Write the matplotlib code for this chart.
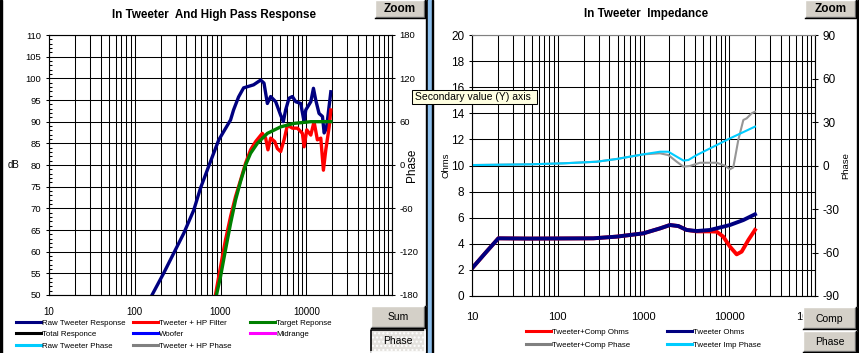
import numpy as np
import matplotlib
matplotlib.use("Agg")
import matplotlib.pyplot as plt
from matplotlib.ticker import LogLocator, FixedLocator, FuncFormatter, MultipleLocator, NullFormatter
from matplotlib.lines import Line2D
from matplotlib.patches import Rectangle

plt.rcParams['font.family'] = ['Liberation Sans', 'DejaVu Sans']
plt.rcParams['axes.unicode_minus'] = False

W, H = 859, 353

# --- left chart: tweeter + high pass response (dB) ---
raw_freq = [159, 217, 284, 372, 488, 583, 764, 955, 1310, 1420, 1624, 1860, 2430, 2940, 3215,
            3520, 3845, 4400, 5030, 5400, 5750, 6290, 6890, 7540, 8620, 9440, 9870, 11300,
            12130, 12900, 14100, 15460, 16170, 17220, 19350]
raw_db = [50, 55.0, 59.6, 64.2, 69.6, 74.6, 80.8, 85.8, 90.4, 92.7, 95.7, 97.8, 98.5, 99.6, 98.9,
          94.2, 95.8, 94.6, 91.5, 90.0, 92.7, 95.4, 95.8, 94.6, 94.2, 90.0, 92.7, 94.6,
          97.7, 95.0, 91.9, 91.2, 87.4, 88.5, 96.9]

hp_freq = [873, 1000, 1143, 1310, 1497, 1713, 1960, 2243, 2566, 3070, 3360, 3575, 3845, 4290,
           4600, 5030, 5510, 6030, 6890, 7890, 9020, 9440, 10140, 11300, 12330, 13480, 14780,
           15850, 16900, 18500, 19350]
hp_db = [50, 56.5, 62.7, 68.1, 72.7, 76.5, 80.4, 83.5, 85.4, 87.3, 86.2, 83.5, 86.2, 85.4,
         83.8, 83.1, 85.8, 89.2, 88.5, 88.5, 87.3, 84.2, 88.1, 86.9, 90.0, 85.8, 86.2,
         78.8, 83.5, 88.8, 92.7]

target_freq = [897, 1000, 1143, 1310, 1497, 1713, 1960, 2243, 2690, 3520, 5030, 7200, 11300, 19350]
target_db = [50, 54.2, 60.4, 66.5, 71.9, 76.2, 80.0, 82.7, 85.0, 87.3, 88.8, 89.6, 90.0, 90.0]

# --- right chart: impedance (ohms) and phase (deg) ---
ohm_freq = [10, 14.2, 20.3, 47.4, 260, 487, 995, 1557, 2036, 2548, 3187, 4170, 5970, 10200,
            14600, 19950]
tw_ohms = [2.12, 3.27, 4.42, 4.4, 4.42, 4.55, 4.8, 5.18, 5.44, 5.36, 5.06, 4.98, 5.06, 5.44,
           5.82, 6.26]

comp_freq = [10, 14.2, 20.3, 47.4, 260, 487, 995, 1557, 2036, 2548, 3187, 4170, 5970, 7130,
             8510, 10200, 12200, 13960, 16700, 19950]
comp_ohms = [2.12, 3.27, 4.42, 4.4, 4.42, 4.55, 4.8, 5.18, 5.44, 5.36, 5.06, 4.95, 4.95, 4.93,
             4.55, 3.78, 3.19, 3.4, 4.29, 5.06]

imp_ph_freq = [10, 47, 116, 284, 487, 995, 1557, 1950, 2440, 2920, 3340, 4170, 5970, 10200, 19950]
imp_phase = [0.3, 0.8, 1.5, 2.6, 4.5, 7.7, 9.5, 9.5, 6.1, 3.4, 3.8, 7.2, 11.8, 18.7, 26.8]

comp_ph_freq = [10, 47, 116, 284, 487, 995, 1557, 1950, 2440, 2920, 3490, 4560, 7130, 8910,
                10200, 11150, 12750, 14600, 15950, 18270, 19950]
comp_phase = [0.3, 0.8, 1.5, 2.6, 4.5, 7.7, 8.4, 7.2, 2.6, -0.8, -0.3, 1.9, 1.9, -0.1,
              -2.6, -1.3, 17.6, 31.4, 32.5, 36.0, 37.1]

freq_ticks = [10, 100, 1000, 10000, 100000]

NAVY, RED, GREEN = '#000080', '#FF0000', '#008000'
CYAN, GRAY = '#00CCFF', '#969696'


def fig_box(x0, y0, x1, y1):
    return [x0 / W, 1 - y1 / H, (x1 - x0) / W, (y1 - y0) / H]


def fig_pt(x, y):
    return (x / W, 1 - y / H)


def setup_freq_axis(ax, labelsize, pad):
    ax.set_xscale('log')
    ax.set_xlim(10, 100000)
    ax.xaxis.set_major_locator(FixedLocator(freq_ticks))
    ax.xaxis.set_major_formatter(FuncFormatter(lambda v, p: f"{int(round(v))}"))
    ax.xaxis.set_minor_locator(LogLocator(base=10, subs=range(2, 10), numticks=20))
    ax.xaxis.set_minor_formatter(NullFormatter())
    ax.grid(True, axis='x', which='both', color='black', lw=0.75)
    ax.grid(True, axis='y', which='major', color='black', lw=0.75)
    ax.set_axisbelow(True)
    ax.tick_params(axis='x', which='both', length=0, pad=pad, labelsize=labelsize)
    for s in ax.spines.values():
        s.set_color('black')
        s.set_linewidth(0.75)


fig = plt.figure(figsize=(W / 100, H / 100), dpi=100)
fig.patch.set_facecolor('white')

# left chart
ax1 = fig.add_axes(fig_box(49, 35, 392, 295))
setup_freq_axis(ax1, 7, 8.4)
ax1.set_ylim(50, 110)
ax1.yaxis.set_major_locator(MultipleLocator(5))
ax1.yaxis.set_minor_locator(MultipleLocator(1))
ax1.tick_params(axis='y', which='major', direction='inout', length=5, width=0.75, pad=3, labelsize=6.8)
ax1.tick_params(axis='y', which='minor', direction='in', length=2.5, width=0.75)
ax1.plot(raw_freq, raw_db, color=NAVY, lw=2.4, solid_joinstyle='round')
ax1.plot(hp_freq, hp_db, color=RED, lw=2.4, solid_joinstyle='round')
ax1.plot(target_freq, target_db, color=GREEN, lw=2.4, solid_joinstyle='round')
ax1.set_ylabel('dB', rotation=0, fontsize=7, ha='center', va='center')
ax1.yaxis.set_label_coords((14 - 49) / 343, 0.5)

ax1b = ax1.twinx()
ax1b.set_ylim(-180, 180)
ax1b.yaxis.set_major_locator(MultipleLocator(60))
ax1b.tick_params(axis='y', direction='inout', length=5, width=0.75, pad=3, labelsize=6.8)
ax1b.set_ylabel('Phase', rotation=90, fontsize=8.5, ha='center', va='center')
ax1b.yaxis.set_label_coords((412 - 49) / 343, 0.5)

fig.text(*fig_pt(214, 15), 'In Tweeter  And High Pass Response', ha='center', va='center',
         fontsize=8.4, fontweight='bold')

# right chart
ax2 = fig.add_axes(fig_box(472, 35, 815, 296))
setup_freq_axis(ax2, 8, 11.2)
ax2.spines['top'].set_color('#808080')
ax2.set_ylim(0, 20)
ax2.yaxis.set_major_locator(MultipleLocator(2))
ax2.tick_params(axis='y', direction='inout', length=5, width=0.75, pad=3, labelsize=8.5)
ax2.plot(comp_freq, comp_ohms, color=RED, lw=2.8, solid_joinstyle='round')
ax2.plot(ohm_freq, tw_ohms, color=NAVY, lw=2.8, solid_joinstyle='round')
ax2.set_ylabel('Ohms', rotation=90, fontsize=6.8, ha='center', va='center')
ax2.yaxis.set_label_coords((446 - 472) / 343, 0.5)

ax2b = ax2.twinx()
ax2b.set_ylim(-90, 90)
ax2b.yaxis.set_major_locator(MultipleLocator(30))
ax2b.tick_params(axis='y', direction='inout', length=5, width=0.75, pad=3, labelsize=8.5)
ax2b.spines['top'].set_color('#808080')
ax2b.plot(comp_ph_freq, comp_phase, color=GRAY, lw=1.5)
ax2b.plot(imp_ph_freq, imp_phase, color=CYAN, lw=1.5)
ax2b.set_ylabel('Phase', rotation=90, fontsize=6.8, ha='center', va='center')
ax2b.yaxis.set_label_coords((846 - 472) / 343, 0.5)

fig.text(*fig_pt(646, 14), 'In Tweeter  Impedance', ha='center', va='center',
         fontsize=8.4, fontweight='bold')


# legends: one fixed-width column per legend, like the original
def legend_column(x, y, entries, spacing):
    handles = [Line2D([], [], color=c, lw=2.2) for c, _ in entries]
    labels = [t for _, t in entries]
    fig.legend(handles, labels, loc='upper left', bbox_to_anchor=fig_pt(x, y),
               frameon=False, fontsize=5.7, handlelength=3.2, handletextpad=0.1,
               labelspacing=spacing, borderpad=0, borderaxespad=0)


legend_column(16, 319, [(NAVY, 'Raw Tweeter Response'), ('black', 'Total Responce'),
                        (CYAN, 'Raw Tweeter Phase')], 0.5)
legend_column(133, 319, [(RED, 'Tweeter + HP Filter'), ('#0000FF', 'Woofer'),
                         ('#808080', 'Tweeter + HP Phase')], 0.5)
legend_column(250, 319, [(GREEN, 'Target Reponse'), ('#FF00FF', 'Midrange')], 0.5)
legend_column(526, 328, [(RED, 'Tweeter+Comp Ohms'), ('#808080', 'Tweeter+Comp Phase')], 0.75)
legend_column(667, 328, [(NAVY, 'Tweeter Ohms'), (CYAN, 'Tweeter Imp Phase')], 0.75)

# window chrome: borders, buttons, tooltip (pixel overlay)
ui = fig.add_axes([0, 0, 1, 1], zorder=10)
ui.set_xlim(0, W)
ui.set_ylim(H, 0)
ui.axis('off')
ui.patch.set_alpha(0)

ui.add_patch(Rectangle((0, 0), 2, H, color='black'))
ui.add_patch(Rectangle((425.5, 0), 2, H, color='black'))
ui.add_patch(Rectangle((427.5, 0), 4, H, color='#8CBEEB'))
ui.add_patch(Rectangle((431.5, 0), 1.5, H, color='black'))
ui.add_patch(Rectangle((857, 0), 2, H, color='black'))


def button(x0, y0, x1, y1, label, pressed=False, bold=False, size=7.5):
    if pressed:
        ui.add_patch(Rectangle((x0, y0), x1 - x0, y1 - y0, facecolor='#E4E2DE',
                               edgecolor='white', hatch='....', lw=0))
        ui.plot([x0, x0, x1], [y1, y0, y0], color='black', lw=1.2)
        ui.plot([x0, x1, x1], [y1, y1, y0], color='white', lw=1.2)
    else:
        ui.add_patch(Rectangle((x0, y0), x1 - x0, y1 - y0, facecolor='#D4D0C8', lw=0))
        ui.plot([x0, x0, x1], [y1, y0, y0], color='white', lw=1.0)
        ui.plot([x0 + 1, x1 - 1, x1 - 1], [y1 - 1, y1 - 1, y0 + 1], color='#808080', lw=1.0)
        ui.plot([x0, x1, x1], [y1, y1, y0], color='black', lw=1.0)
    ui.text((x0 + x1) / 2, (y0 + y1) / 2 + 0.5, label, ha='center', va='center',
            fontsize=size, fontweight='bold' if bold else 'normal')


button(375, 0, 425, 18, 'Zoom', bold=True, size=8.5)
button(371, 306, 425, 328, 'Sum')
button(371, 330, 425, 352, 'Phase', pressed=True)
button(805, 0, 856, 18, 'Zoom', bold=True, size=8.5)
button(803, 307, 856, 329, 'Comp')
button(803, 331, 856, 352, 'Phase')

ui.add_patch(Rectangle((412, 90), 125, 14, facecolor='#FFFFE1', edgecolor='black', lw=0.75))
ui.text(415, 97.5, 'Secondary value (Y) axis', ha='left', va='center', fontsize=7.5)

fig.savefig('out.png', dpi=100)
